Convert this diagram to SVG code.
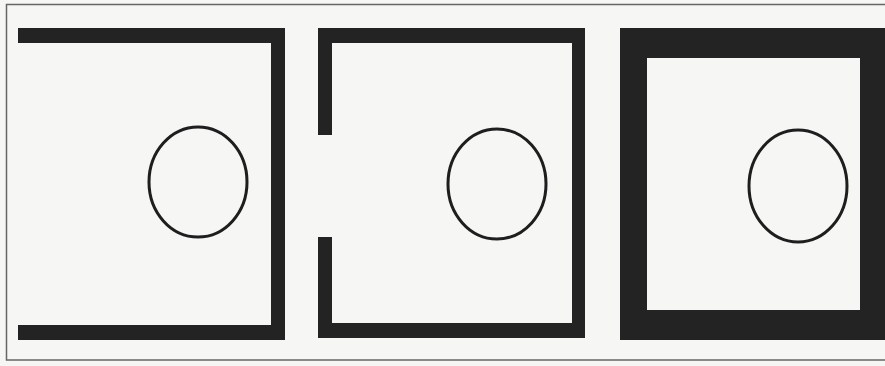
<svg xmlns="http://www.w3.org/2000/svg" width="885" height="366" viewBox="0 0 885 366">
<style>
.bar{fill:#232323}
.ring{fill:none;stroke:#1e1e1e;stroke-width:3}
.frame{fill:none;stroke:#666;stroke-width:1.5}
</style>
<rect x="0" y="0" width="885" height="366" fill="#f6f6f4"/>
<path class="frame" d="M886,4.5 H6.5 V360 H886"/>
<g id="panel1">
<rect class="bar" x="18" y="28" width="267" height="15"/>
<rect class="bar" x="271" y="28" width="14" height="312"/>
<rect class="bar" x="18" y="325" width="267" height="15"/>
<ellipse class="ring" cx="198" cy="182" rx="49" ry="55"/>
</g>
<g id="panel2">
<rect class="bar" x="318" y="28" width="267" height="15"/>
<rect class="bar" x="318" y="28" width="14" height="107"/>
<rect class="bar" x="572" y="28" width="13" height="310"/>
<rect class="bar" x="318" y="237" width="14" height="101"/>
<rect class="bar" x="318" y="323" width="267" height="15"/>
<ellipse class="ring" cx="497" cy="184" rx="49" ry="55"/>
</g>
<g id="panel3">
<path class="bar" fill-rule="evenodd" d="M620,28 H885 V340 H620 Z M647,58 V310 H860 V58 Z"/>
<ellipse class="ring" cx="798" cy="186" rx="49" ry="56"/>
</g>
<g id="connectors"/>
</svg>
